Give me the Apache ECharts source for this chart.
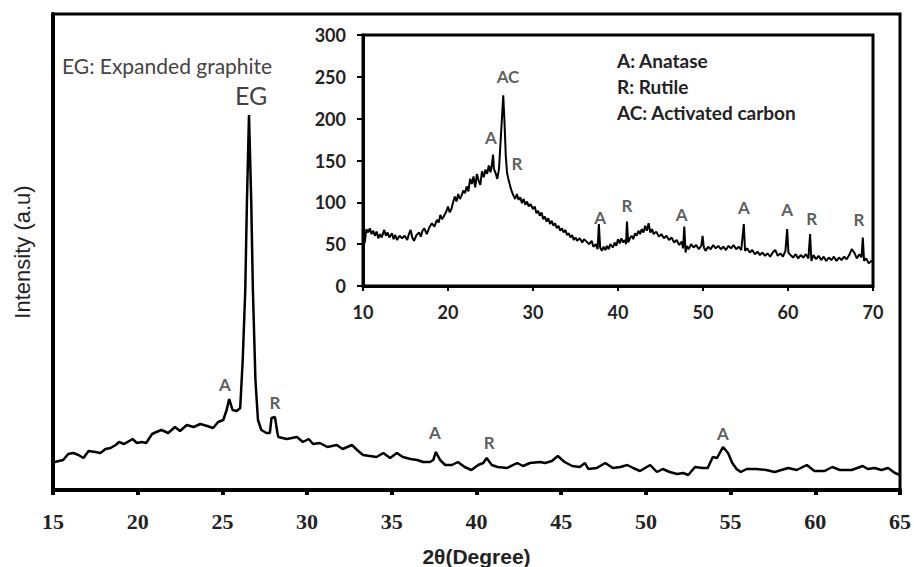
<!DOCTYPE html>
<html>
<head>
<meta charset="utf-8">
<script src="https://cdn.jsdelivr.net/npm/echarts@6/dist/echarts.min.js"></script>
<style>
  html, body { margin: 0; padding: 0; background: #fff; }
  #chart { width: 914px; height: 567px; }
</style>
</head>
<body>
<div id="chart"></div>
<script>
// main pattern: 2theta (deg) and intensity (a.u.)
var mainX = [15.0, 15.1, 15.6, 15.9, 16.2, 16.5, 16.8, 17.1, 17.5, 17.8, 18.1, 18.4, 18.7, 18.9, 19.2, 19.4, 19.7, 19.95,
  20.25, 20.5, 20.85, 21.1, 21.4, 21.8, 22.2, 22.5, 22.9, 23.3, 23.7, 24.1, 24.45, 24.75, 25.05, 25.25, 25.4, 25.6, 25.85,
  26.05, 26.2, 26.35, 26.45, 26.57, 26.7, 26.8, 26.95, 27.1, 27.3, 27.6, 27.8, 27.9, 28.1, 28.25, 28.3, 28.8, 29.4, 29.75,
  30.1, 30.35, 30.75, 31.2, 31.75, 32.1, 32.65, 32.95, 33.3, 33.7, 34.1, 34.5, 34.9, 35.3, 35.65, 36.1, 36.5, 36.85, 37.25,
  37.45, 37.6, 37.85, 38.15, 38.55, 38.9, 39.3, 39.7, 40.1, 40.4, 40.6, 40.9, 41.25, 41.8, 42.4, 42.75, 43.15, 43.75, 44.05,
  44.45, 44.8, 45.2, 45.65, 46.1, 46.4, 46.6, 47.1, 47.6, 48.05, 48.5, 48.9, 49.25, 49.65, 50.25, 50.65, 51.0, 51.4, 51.85,
  52.2, 52.5, 52.9, 53.35, 53.65, 53.95, 54.2, 54.55, 54.85, 55.1, 55.35, 55.6, 55.95, 56.5, 57.1, 57.6, 58.0, 58.4, 58.9,
  59.5, 59.95, 60.55, 61.0, 61.45, 62.15, 62.8, 63.1, 63.5, 63.9, 64.3, 64.7, 65.0];
var mainY = [28, 28, 30, 36, 37, 35, 32, 39, 38, 37, 41, 42, 45, 48, 46, 48, 51, 47,
  48, 47, 56, 58, 60, 57, 63, 59, 65, 63, 66, 64, 62, 68, 70, 80, 91, 80, 79,
  82, 130, 200, 290, 375, 290, 200, 110, 70, 60, 57, 57, 72, 73, 57, 53, 51, 53, 48,
  51, 46, 47, 43, 45, 41, 45, 40, 35, 34, 33, 37, 32, 37, 33, 31, 30, 28, 28,
  30, 38, 30, 25, 25, 28, 23, 20, 25, 27, 32, 25, 23, 22, 27, 24, 27, 28, 27,
  29, 34, 28, 24, 23, 27, 21, 22, 27, 22, 23, 25, 22, 19, 25, 18, 21, 18, 16,
  17, 15, 23, 22, 22, 33, 32, 43, 37, 27, 21, 18, 21, 21, 20, 18, 20, 22, 20,
  25, 19, 19, 23, 20, 20, 24, 21, 22, 20, 22, 17, 15];

// inset pattern (activated carbon sample)
var insetX = [10.0, 10.2, 10.4, 10.6, 10.8, 11.0, 11.2, 11.4, 11.6, 11.8, 12.0, 12.2, 12.5, 12.7, 12.9, 13.1, 13.4, 13.6,
  13.8, 14.0, 14.3, 14.6, 14.9, 15.2, 15.4, 15.6, 15.8, 16.0, 16.3, 16.6, 16.8, 17.0, 17.2, 17.5, 17.8, 18.1, 18.4, 18.7,
  18.9, 19.1, 19.3, 19.5, 19.8, 20.0, 20.2, 20.4, 20.6, 20.8, 21.0, 21.2, 21.4, 21.6, 21.8, 22.0, 22.2, 22.4, 22.6, 22.8,
  23.0, 23.2, 23.4, 23.6, 23.8, 24.0, 24.2, 24.4, 24.6, 24.8, 25.0, 25.2, 25.3, 25.4, 25.6, 25.8, 26.0, 26.2, 26.5, 26.65,
  26.8, 26.95, 27.1, 27.3, 27.5, 27.7, 27.9, 28.1, 28.3, 28.5, 28.7, 28.9, 29.1, 29.3, 29.5, 29.7, 30.0, 30.2, 30.4, 30.6,
  30.8, 31.0, 31.2, 31.4, 31.6, 31.8, 32.0, 32.2, 32.4, 32.6, 32.8, 33.0, 33.2, 33.4, 33.6, 33.8, 34.0, 34.2, 34.4, 34.6,
  34.8, 35.0, 35.2, 35.5, 35.8, 36.0, 36.3, 36.6, 36.9, 37.1, 37.4, 37.6, 37.75, 37.9, 38.1, 38.3, 38.5, 38.7, 38.9, 39.1,
  39.4, 39.6, 39.8, 40.0, 40.2, 40.4, 40.6, 40.8, 40.95, 41.05, 41.2, 41.4, 41.6, 41.8, 42.0, 42.2, 42.4, 42.6, 42.8, 43.0,
  43.2, 43.4, 43.6, 43.8, 44.0, 44.2, 44.5, 44.8, 45.1, 45.4, 45.7, 46.0, 46.3, 46.6, 46.9, 47.2, 47.5, 47.65, 47.8, 47.95,
  48.1, 48.3, 48.6, 48.9, 49.2, 49.5, 49.8, 49.95, 50.1, 50.3, 50.6, 50.9, 51.2, 51.5, 51.8, 52.1, 52.4, 52.7, 53.0, 53.3,
  53.6, 53.9, 54.2, 54.5, 54.8, 54.95, 55.2, 55.5, 55.8, 56.1, 56.4, 56.7, 57.0, 57.3, 57.6, 57.9, 58.2, 58.5, 58.8, 59.1,
  59.4, 59.7, 59.9, 60.05, 60.3, 60.6, 60.9, 61.2, 61.5, 61.8, 62.1, 62.4, 62.6, 62.75, 63.0, 63.3, 63.6, 63.9, 64.2, 64.5,
  64.8, 65.1, 65.4, 65.7, 66.0, 66.3, 66.6, 66.9, 67.2, 67.5, 67.8, 68.1, 68.4, 68.65, 68.8, 68.95, 69.2, 69.5, 69.8, 70.0];
var insetY = [48, 52, 68, 64, 69, 62, 66, 60, 65, 57, 62, 58, 67, 60, 64, 58, 63, 56,
  61, 55, 60, 57, 60, 55, 62, 67, 58, 54, 61, 64, 59, 66, 69, 62, 70, 75, 71, 79,
  76, 85, 80, 83, 89, 95, 88, 92, 100, 107, 101, 110, 104, 108, 114, 111, 119, 113, 128, 122,
  131, 118, 134, 126, 121, 137, 130, 139, 134, 144, 136, 147, 157, 140, 135, 128, 140, 175, 228, 195,
  155, 135, 128, 120, 113, 108, 104, 110, 103, 106, 99, 104, 97, 101, 95, 98, 92, 95, 87, 90,
  84, 88, 80, 83, 77, 81, 74, 78, 72, 75, 69, 72, 66, 69, 64, 67, 61, 63, 58, 61,
  55, 58, 54, 57, 52, 56, 53, 50, 54, 47, 50, 44, 74, 46, 42, 47, 43, 48, 44, 50,
  46, 52, 48, 56, 51, 57, 52, 55, 50, 77, 52, 57, 60, 56, 63, 60, 66, 62, 68, 64,
  72, 66, 75, 64, 68, 62, 65, 59, 62, 57, 60, 55, 58, 52, 55, 49, 53, 45, 71, 40,
  48, 44, 50, 46, 49, 44, 48, 60, 46, 42, 47, 44, 49, 45, 48, 44, 47, 43, 48, 45,
  49, 44, 47, 43, 74, 42, 45, 40, 43, 38, 41, 37, 40, 36, 39, 35, 40, 43, 36, 39,
  35, 42, 68, 40, 37, 34, 38, 33, 37, 34, 38, 33, 62, 30, 37, 32, 36, 31, 35, 30,
  34, 31, 35, 30, 34, 31, 35, 32, 37, 44, 40, 33, 38, 34, 58, 30, 33, 27, 30, 29];

// peak labels (main plot)
var mainPeakText = ['A', 'R', 'A', 'R', 'A'];
var mainPeakX = [25.15, 28.1, 37.55, 40.75, 54.55];
var mainPeakY = [106, 88, 58, 48, 57];

// peak labels (inset)
var insetPeakText = ['AC', 'A', 'R', 'A', 'R', 'A', 'A', 'A', 'R', 'R'];
var insetPeakX = [27.06, 25.06, 28.1, 37.9, 41.06, 47.5, 54.8, 59.9, 62.8, 68.35];
var insetPeakY = [250, 177, 147, 82, 96, 85, 94, 92, 81, 79];

function pairs(xs, ys) {
    var out = [];
    for (var i = 0; i < xs.length; i++) {
        out.push([xs[i], ys[i]]);
    }
    return out;
}

function labelSeries(xi, yi, xs, ys, texts) {
    return {
        type: 'scatter',
        xAxisIndex: xi,
        yAxisIndex: yi,
        symbolSize: 1,
        itemStyle: { color: 'rgba(0,0,0,0)' },
        silent: true,
        label: {
            show: true,
            position: 'inside',
            color: '#333',
            fontFamily: 'Lato',
            fontWeight: 'bold',
            fontSize: 17,
            formatter: function (p) { return texts[p.dataIndex]; }
        },
        data: pairs(xs, ys)
    };
}

var chart = echarts.init(document.getElementById('chart'), null, { renderer: 'svg' });

var option = {
    backgroundColor: '#fff',
    animation: false,
    grid: [
        { left: 53, right: 14, top: 14, bottom: 77, outerBoundsMode: 'none', containLabel: false,
          show: true, borderColor: '#000', borderWidth: 3 },
        { left: 363, right: 41, top: 35, bottom: 281, outerBoundsMode: 'none', containLabel: false,
          show: true, borderColor: '#000', borderWidth: 3, backgroundColor: '#fff' }
    ],
    xAxis: [
        {
            gridIndex: 0, type: 'value', min: 15, max: 65, interval: 5,
            name: '2θ(Degree)', nameLocation: 'middle', nameGap: 56,
            nameTextStyle: { fontFamily: 'Liberation Sans', fontWeight: 'bold', fontSize: 21, color: '#222' },
            axisLine: { lineStyle: { color: '#000', width: 4 } },
            axisTick: { inside: false, length: 5, lineStyle: { color: '#000', width: 4 } },
            axisLabel: { fontFamily: 'Liberation Serif', fontWeight: 'bold', fontSize: 22, color: '#222', margin: 20 },
            splitLine: { show: false }
        },
        {
            gridIndex: 1, type: 'value', min: 10, max: 70, interval: 10,
            axisLine: { lineStyle: { color: '#000', width: 3 } },
            axisTick: { length: 5, lineStyle: { color: '#000', width: 2 } },
            axisLabel: { fontFamily: 'Lato', fontWeight: 'bold', fontSize: 18, color: '#222', margin: 17 },
            splitLine: { show: false }
        }
    ],
    yAxis: [
        {
            gridIndex: 0, type: 'value', min: 0, max: 476,
            name: 'Intensity (a.u)', nameLocation: 'middle', nameGap: 20, nameRotate: 90,
            nameTextStyle: { fontFamily: 'Liberation Sans', fontSize: 22, color: '#222' },
            axisLine: { show: true, lineStyle: { color: '#000', width: 4 } },
            axisTick: { show: false },
            axisLabel: { show: false },
            splitLine: { show: false }
        },
        {
            gridIndex: 1, type: 'value', min: 0, max: 300, interval: 50,
            axisLine: { show: true, lineStyle: { color: '#000', width: 3 } },
            axisTick: { show: true, length: 6, lineStyle: { color: '#000', width: 2 } },
            axisLabel: { fontFamily: 'Lato', fontWeight: 'bold', fontSize: 18, color: '#222', margin: 17 },
            splitLine: { show: false }
        }
    ],
    graphic: [
        { type: 'text', left: 62, top: 55, style: { text: 'EG: Expanded graphite', font: '21px Lato', fill: '#444' } },
        { type: 'text', left: 235, top: 82, style: { text: 'EG', font: '25px Lato', fill: '#444' } },
        { type: 'text', left: 617, top: 51, style: { text: 'A: Anatase', font: 'bold 19px Lato', fill: '#222' } },
        { type: 'text', left: 617, top: 77, style: { text: 'R: Rutile', font: 'bold 19px Lato', fill: '#222' } },
        { type: 'text', left: 617, top: 103, style: { text: 'AC: Activated carbon', font: 'bold 19px Lato', fill: '#222' } }
    ],
    series: [
        {
            type: 'line', xAxisIndex: 0, yAxisIndex: 0, showSymbol: false,
            lineStyle: { color: '#000', width: 2.5 },
            data: pairs(mainX, mainY)
        },
        {
            type: 'line', xAxisIndex: 1, yAxisIndex: 1, showSymbol: false,
            lineStyle: { color: '#000', width: 2 },
            data: pairs(insetX, insetY)
        },
        labelSeries(0, 0, mainPeakX, mainPeakY, mainPeakText),
        labelSeries(1, 1, insetPeakX, insetPeakY, insetPeakText)
    ]
};

chart.setOption(option);
</script>
</body>
</html>
